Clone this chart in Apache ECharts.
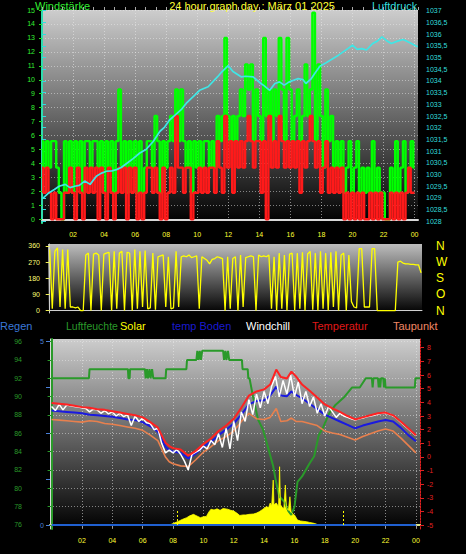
<!DOCTYPE html>
<html><head><meta charset="utf-8">
<script src="https://cdn.jsdelivr.net/npm/echarts@6/dist/echarts.min.js"></script>
<style>html,body{margin:0;padding:0;background:#000;}#c{width:466px;height:554px;}</style>
</head><body><div id="c"></div>
<script>
// ---------- tick labels ----------
const hourLabels = [2,4,6,8,10,12,14,16,18,20,22,24];
const speedLabels = [0,1,2,3,4,5,6,7,8,9,10,11,12,13,14,15];
const pressLabels = [1028,1028.5,1029,1029.5,1030,1030.5,1031,1031.5,1032,1032.5,1033,1033.5,1034,1034.5,1035,1035.5,1036,1036.5,1037];
const dirLabels = [0,90,180,270,360];
const dirNames = ['N','O','S','W','N'];
const humLabels = [76,78,80,82,84,86,88,90,92,94,96];
const rainLabels = [0,5];
const rainTicks = [0,1.25,2.5,3.75,5];
const tempLabels = [-5,-4,-3,-2,-1,0,1,2,3,4,5,6,7,8];

// ---------- panel 1: wind speed (10-minute steps from 00:00) ----------
const windStepH = 1/6;
const windGust = [
5.6,3.7,5.6,3.7,5.6,5.6,
3.7,1.9,0,5.6,1.9,5.6,
1.9,5.6,3.7,5.6,1.9,5.6,
5.6,3.7,5.6,5.6,3.7,5.6,
1.9,5.6,3.7,5.6,1.9,5.6,
9.3,3.7,5.6,1.9,5.6,3.7,
5.6,1.9,5.6,1.9,3.7,5.6,
5.6,3.7,7.4,5.6,1.9,5.6,
3.7,5.6,7.4,5.6,9.3,5.6,
9.3,5.6,3.7,5.6,1.9,5.6,
3.7,5.6,3.7,5.6,5.6,3.7,
5.6,3.7,7.4,5.6,7.4,13,
7.4,5.6,7.4,5.6,7.4,9.3,
7.4,11.1,9.3,11.1,5.6,9.3,
7.4,5.6,13,7.4,9.3,5.6,
9.3,7.4,13,9.3,5.6,13,
9.3,5.6,7.4,9.3,5.6,7.4,
11.1,7.4,9.3,14.8,5.6,11.1,
7.4,3.7,9.3,5.6,7.4,3.7,
5.6,3.7,5.6,1.9,3.7,5.6,
1.9,3.7,5.6,1.9,3.7,1.9,
3.7,1.9,5.6,1.9,3.7,1.9,
1.9,0,0,3.7,1.9,5.6,
1.9,3.7,5.6,1.9,3.7,5.6,
3.7];
const windAvg = [
3.7,1.9,3.7,1.9,0,1.9,
0,0,0,1.9,1.9,3.7,
1.9,0,3.7,1.9,0,3.7,
1.9,3.7,1.9,3.7,0,3.7,
1.9,0,3.7,1.9,0,1.9,
3.7,1.9,3.7,0,3.7,1.9,
3.7,0,1.9,0,1.9,3.7,
3.7,1.9,3.7,1.9,0,3.7,
0,1.9,3.7,1.9,7.4,3.7,
3.7,1.9,3.7,3.7,0,1.9,
1.9,3.7,1.9,3.7,1.9,3.7,
3.7,1.9,5.6,3.7,1.9,7.4,
3.7,5.6,1.9,5.6,3.7,5.6,
3.7,5.6,7.4,5.6,3.7,5.6,
5.6,1.9,5.6,0,7.4,3.7,
5.6,3.7,7.4,5.6,3.7,5.6,
3.7,5.6,3.7,5.6,1.9,5.6,
3.7,5.6,7.4,5.6,3.7,5.6,
1.9,3.7,5.6,1.9,3.7,1.9,
3.7,1.9,3.7,0,1.9,0,
1.9,0,1.9,0,1.9,0,
0,1.9,0,1.9,0,1.9,
0,0,0,1.9,0,1.9,
0,1.9,0,1.9,3.7,1.9,
1.9];
const pressHours = [0.05,0.4,0.8,1.1,1.5,1.8,2.1,2.4,2.75,3.1,3.5,3.8,4.15,4.5,4.8,5.1,5.45,5.87,6.3,6.7,7.15,7.6,7.9,8.2,8.5,9.0,9.3,9.84,10.15,10.7,11.3,11.6,12.0,12.3,12.85,13.1,13.6,14.1,14.3,14.67,15.0,15.3,15.6,15.9,16.2,16.5,16.8,17.0,17.35,17.6,17.9,18.3,18.75,19.1,19.4,19.7,20.0,20.3,20.6,20.9,21.3,21.6,21.9,22.2,22.5,22.9,23.25,23.5,23.7,24.0,24.2];
const pressVals = [1028.98,1029.2,1029.36,1029.5,1029.58,1029.44,1029.5,1029.54,1029.72,1029.58,1029.93,1030.05,1030.14,1030.16,1030.21,1030.3,1030.47,1030.68,1030.92,1031.07,1031.4,1031.85,1032.03,1032.32,1032.5,1032.8,1033.05,1033.39,1033.6,1033.75,1034.17,1034.4,1034.65,1034.4,1034.17,1034.2,1034.17,1033.89,1033.8,1033.6,1033.89,1033.96,1033.82,1033.95,1034.03,1034.1,1034.06,1033.89,1034.1,1034.35,1034.63,1034.78,1034.96,1035.1,1035.24,1035.38,1035.53,1035.35,1035.38,1035.32,1035.6,1035.7,1035.88,1035.72,1035.6,1035.7,1035.77,1035.7,1035.63,1035.52,1035.46];

// ---------- panel 2: wind direction (10-minute steps) ----------
const windDir = [
340,10,330,350,20,340,
10,340,20,20,15,20,
0,0,310,320,0,315,
320,310,0,315,320,325,
0,330,10,320,330,0,
325,320,0,340,10,330,
20,335,10,15,320,5,
300,305,310,20,300,10,
15,330,20,300,305,300,
310,295,300,305,10,300,
290,280,260,285,290,300,
295,290,0,300,10,290,
300,0,310,20,295,300,
305,300,0,310,300,305,
300,310,10,300,0,320,
10,310,0,315,320,0,
320,10,325,0,315,330,
5,320,0,330,10,320,
0,325,20,330,0,310,
320,0,310,50,20,15,
345,345,20,20,20,345,
345,0,0,0,0,0,
0,0,0,270,275,265,
260,260,258,258,255,255,
210];

// ---------- panel 3 ----------
const humHours = [0,2.46,2.5,5.03,5.06,5.14,5.17,6.15,6.2,6.28,6.35,6.45,6.52,6.62,6.7,6.8,7.51,7.55,8.88,8.92,9.54,9.6,9.68,9.76,9.84,9.92,10.1,11.3,11.36,11.45,11.52,11.62,11.7,11.8,12.54,12.58,12.92,12.96,13.04,13.27,13.6,13.93,14.25,14.6,14.8,15.0,15.35,15.6,15.79,16.0,16.2,16.5,16.99,17.3,17.6,17.9,18.3,18.7,19.3,19.8,20.3,20.7,21.1,21.15,21.2,21.5,21.55,21.6,21.65,21.7,21.85,21.9,21.95,22.0,23.93,23.97,24.27];
const humVals  = [92,92,93,93,92,92,93,93,92,93,92,93,92,93,92,92,92,93,93,94,94,95,94,95,94,95,95,95,94,95,94,95,94,94,94,93,93,92,92,90,87.5,86.4,84.5,82.4,80.6,79.1,78.5,77.5,77.1,78,80.7,81.3,82.7,83.5,85.8,86.7,88.2,89.1,90,91,91,92,92,91,92,92,91,92,91,92,92,91,92,91,91,92,92];
const solarHours = [7.8,8.0,8.2,8.4,8.6,8.9,9.1,9.35,9.5,9.8,10.0,10.2,10.35,10.5,10.7,10.9,11.1,11.3,11.6,11.8,12.0,12.2,12.4,12.6,12.8,13.0,13.3,13.5,13.7,13.9,14.15,14.3,14.4,14.5,14.6,14.65,14.8,14.95,15.02,15.08,15.2,15.3,15.4,15.47,15.6,15.7,15.78,15.9,16.0,16.2,16.4,16.8,17.0,17.3,17.6];
const solarVals  = [0,8,15,22,30,40,50,58,52,40,45,47,70,86,82,88,80,90,86,80,76,65,52,55,55,58,60,65,73,85,100,95,120,105,245,110,120,100,318,110,95,90,218,95,80,154,70,60,55,27,22,18,14,9,0];
const sunTimes = [8.28, 19.2];
const rainHours = [0, 24];
const rainVals = [0, 0];
const tHours = [0,0.5,1,1.5,2,2.5,3,3.5,4,4.5,5,5.5,6,6.5,7,7.25,7.5,7.75,8,8.5,9,9.5,10,10.5,11,11.5,12,12.5,13,13.5,14,14.4,14.8,15.1,15.5,15.8,16.1,16.5,17,17.5,18,18.5,19,19.5,20,20.5,21,21.5,22,22.5,23,23.5,24];
const tempVals = [3.95,3.9,3.85,3.75,3.65,3.6,3.5,3.45,3.35,3.25,3.15,3.05,2.9,2.55,2.15,1.6,1.05,0.8,0.65,0.55,0.1,0.45,0.95,1.35,1.9,2.3,2.8,3.6,4.5,4.8,4.95,5.3,6.4,5.85,5.75,6.25,5.9,5.3,4.85,4.35,3.85,3.55,3.3,3.0,2.75,2.9,3.05,3.2,3.25,3.05,2.6,2.1,1.6];
const soilVals = [3.4,3.35,3.3,3.25,3.2,3.1,3.05,3.0,2.95,2.85,2.75,2.7,2.55,2.25,1.85,1.3,0.75,0.5,0.4,0.3,-0.1,0.25,0.75,1.1,1.6,2.0,2.45,3.1,3.85,4.1,4.15,4.5,5.15,4.5,4.45,4.8,4.55,4.3,3.9,3.5,3.1,2.85,2.6,2.35,2.1,2.3,2.45,2.6,2.7,2.6,2.15,1.6,1.15];
const dewVals  = [2.75,2.7,2.65,2.6,2.55,2.65,2.6,2.45,2.4,2.3,2.2,2.1,1.95,1.6,1.2,0.6,0.0,-0.35,-0.5,-0.65,-0.7,-0.2,0.35,0.75,1.2,1.5,1.9,2.6,3.2,2.8,2.75,2.9,3.55,2.6,2.65,2.85,2.6,2.6,2.45,2.3,1.9,1.75,1.65,1.45,1.25,1.5,1.7,1.9,2.05,1.9,1.4,0.85,0.3];
const chillStepH = 0.25;
const chillVals = [3.7,3.4,3.85,3.45,3.8,3.75,3.7,3.65,3.6,3.55,3.3,3.5,3.45,3.2,3.4,3.15,3.3,3.0,3.2,2.95,3.1,2.3,3.0,2.6,2.85,2.5,2.45,2.0,2.1,1.0,0.3,0.5,0.3,0.55,0.2,-0.3,-0.95,0.2,0.35,0.5,0.8,0.6,1.2,0.9,1.7,0.7,2.1,0.6,2.6,1.2,3.3,2.6,4.2,3.1,4.6,3.6,4.8,3.9,5.2,5.9,4.4,5.6,4.6,6.0,4.4,5.5,3.9,4.8,3.7,4.4,3.2,3.9,3.0,3.7,3.3,2.9,3.2,3.0,2.9,2.8,2.7,2.8,2.85,2.95,3.0,3.05,3.15,3.2,3.2,3.15,3.0,2.8,2.55,2.3,2.05,1.8,1.55];

// ---------- build ----------
const FONT = '"Liberation Sans", Arial, sans-serif';
const zip = (xs, ys) => xs.map((x, i) => [x, ys[i]]);
const stepped = (vals, step) => vals.map((v, i) => [i * step, v]);
const fmtHour = v => { const h = Math.round(v) % 24; return (h < 10 ? '0' : '') + h; };
const grad = top => ({type:'linear', x:0, y:0, x2:0, y2:1, colorStops:[{offset:0, color:top},{offset:1, color:'#000000'}]});
const dotted = c => ({show:true, lineStyle:{color:c, width:1, type:[1,2]}});
const lbl = (c, extra) => Object.assign({color:c, fontSize:7, fontFamily:FONT}, extra || {});
const line = (name, xi, yi, data, color, width, extra) => Object.assign({
  name, type:'line', xAxisIndex:xi, yAxisIndex:yi, data, showSymbol:false, symbol:'none',
  lineStyle:{color, width}, itemStyle:{color}, emphasis:{disabled:true}, silent:true
}, extra || {});

const chart = echarts.init(document.getElementById('c'), null, {renderer:'svg', width:466, height:554});
const txt = (s, x, y, color, size, align) => ({type:'text', x, y, silent:true,
  style:{text:s, fill:color, font: size + 'px ' + FONT, textAlign: align || 'left', textVerticalAlign:'middle'}});

chart.setOption({
  backgroundColor:'#000000',
  animation:false,
  grid:[
    {left:42, top:10, width:376, height:213, show:true, backgroundColor:grad('#cdcdcd'), borderWidth:0},
    {left:48, top:244, width:374, height:69, show:true, backgroundColor:grad('#bdbdbd'), borderWidth:0},
    {left:50, top:339, width:370, height:190, show:true, backgroundColor:grad('#cdcdcd'), borderWidth:0}
  ],
  xAxis:[
    {gridIndex:0, type:'value', min:0, max:24.22,
     axisLine:{show:true, lineStyle:{color:'#d8d8d8', width:2}},
     axisTick:{show:false, customValues:hourLabels},
     axisLabel:lbl('#ffff33', {customValues:hourLabels, formatter:fmtHour, margin:8}),
     splitLine:dotted('rgba(235,235,235,0.55)')},
    {gridIndex:1, type:'value', min:-0.11, max:24.06,
     axisLine:{show:true, lineStyle:{color:'#d0d0d0', width:1}},
     axisTick:{show:false}, axisLabel:{show:false}, splitLine:{show:false}},
    {gridIndex:2, type:'value', min:-0.105, max:24.27,
     axisLine:{show:true, lineStyle:{color:'#d8e48a', width:2}},
     axisTick:{show:true, customValues:hourLabels, length:3, lineStyle:{color:'#9a9a9a'}},
     axisLabel:lbl('#ffff33', {customValues:hourLabels, formatter:fmtHour, margin:8}),
     splitLine:dotted('rgba(235,235,235,0.55)')},
    {gridIndex:0, type:'value', min:0, max:24.22, interval:2/3,
     axisLine:{show:false}, axisLabel:{show:false}, splitLine:{show:false},
     axisTick:{show:true, length:3, lineStyle:{color:'#a8a8a8'}}}
  ],
  yAxis:[
    {gridIndex:0, type:'value', min:-0.265, max:15, position:'left',
     axisLine:{show:true, lineStyle:{color:'#22dd22', width:2}},
     axisTick:{show:true, customValues:speedLabels, length:3, lineStyle:{color:'#22dd22'}},
     axisLabel:lbl('#33ee33', {customValues:speedLabels, margin:7}),
     splitLine:dotted('rgba(235,235,235,0.5)')},
    {gridIndex:0, type:'value', min:1027.93, max:1037.03, position:'right',
     axisLine:{show:true, lineStyle:{color:'#33dddd', width:1.5}},
     axisTick:{show:true, customValues:pressLabels, length:4, lineStyle:{color:'#33dddd'}},
     axisLabel:lbl('#33dddd', {customValues:pressLabels, margin:8, formatter:v => String(v).replace('.', ',')}),
     splitLine:{show:false}},
    {gridIndex:1, type:'value', min:-13.4, max:371, position:'left',
     axisLine:{show:true, lineStyle:{color:'#d0d0d0'}},
     axisTick:{show:true, customValues:dirLabels, length:4, lineStyle:{color:'#eeee55'}},
     axisLabel:lbl('#ffff77', {customValues:dirLabels, margin:8}),
     splitLine:{show:false}},
    {gridIndex:1, type:'value', min:-13.4, max:371, position:'right',
     axisLine:{show:false}, axisTick:{show:false},
     axisLabel:{customValues:dirLabels, margin:14, color:'#ffff00', fontSize:12, fontFamily:FONT,
                formatter:v => dirNames[dirLabels.indexOf(v)]},
     splitLine:{show:false}},
    {gridIndex:2, type:'value', min:75.56, max:96.29, position:'left', offset:20,
     axisLine:{show:true, lineStyle:{color:'#2a9a2a', width:2}},
     axisTick:{show:true, customValues:humLabels, length:4, lineStyle:{color:'#2a9a2a'}},
     axisLabel:lbl('#2a9a2a', {customValues:humLabels, margin:8}),
     splitLine:dotted('rgba(235,235,235,0.5)')},
    {gridIndex:2, type:'value', min:-0.109, max:5.074, position:'left', offset:0,
     axisLine:{show:true, lineStyle:{color:'#d8d8d8', width:1}},
     axisTick:{show:true, customValues:rainTicks, length:4, lineStyle:{color:'#4a80d8'}},
     axisLabel:lbl('#4a80d8', {customValues:rainLabels, margin:6}),
     splitLine:{show:false}},
    {gridIndex:2, type:'value', min:-5.271, max:8.637, position:'right',
     axisLine:{show:true, lineStyle:{color:'#e02020', width:1, type:[2,1]}},
     axisTick:{show:true, customValues:tempLabels, length:4, lineStyle:{color:'#e02020'}},
     axisLabel:lbl('#e02020', {customValues:tempLabels, margin:7}),
     splitLine:{show:false}},
    {gridIndex:2, type:'value', min:-21.8, max:1014.7, show:false}
  ],
  series:[
    line('Windböe', 0, 0, stepped(windGust, windStepH), '#00ff00', 2.4, {step:'middle'}),
    line('Windstärke', 0, 0, stepped(windAvg, windStepH), '#ff1a1a', 2.4, {step:'middle'}),
    line('Luftdruck', 0, 1, zip(pressHours, pressVals), '#3fe6e6', 1.7),
    line('Windrichtung', 1, 2, stepped(windDir, windStepH), '#ffff00', 1.3),
    line('Luftfeuchte', 2, 4, zip(humHours, humVals), '#2a9a2a', 2),
    line('Solar', 2, 7, zip(solarHours, solarVals), '#ffff00', 0.8, {
      areaStyle:{color:'#ffff00', opacity:1},
      markLine:{silent:true, symbol:'none', label:{show:false},
        lineStyle:{color:'#ffff00', type:[2,2], width:1},
        data: sunTimes.map(t => [{coord:[t, 0]}, {coord:[t, 82]}])}}),
    line('Regen', 2, 5, zip(rainHours, rainVals), '#2060d0', 2),
    line('Taupunkt', 2, 6, zip(tHours, dewVals), '#e8804e', 1.6),
    line('temp Boden', 2, 6, zip(tHours, soilVals), '#1a1ae0', 2),
    line('Windchill', 2, 6, stepped(chillVals, chillStepH), '#ffffff', 1.5),
    line('Temperatur', 2, 6, zip(tHours, tempVals), '#ff2222', 2)
  ],
  graphic:[
    txt('Windstärke', 35, 6, '#33ee33', 11),
    txt('24 hour graph day : März 01 2025', 252, 6, '#ffff33', 11, 'center'),
    txt('Luftdruck', 372, 6, '#33dddd', 11),
    txt('Regen', 0, 326, '#3a78d8', 11),
    txt('Luftfeuchte', 66, 326, '#2a9a2a', 10.5),
    txt('Solar', 120, 326, '#ffff00', 11),
    txt('temp Boden', 172, 326, '#1a1ad0', 11),
    txt('Windchill', 246, 326, '#ffffff', 11),
    txt('Temperatur', 312, 326, '#e01818', 11),
    txt('Taupunkt', 393, 326, '#f08866', 11)
  ]
});
</script>
</body></html>
